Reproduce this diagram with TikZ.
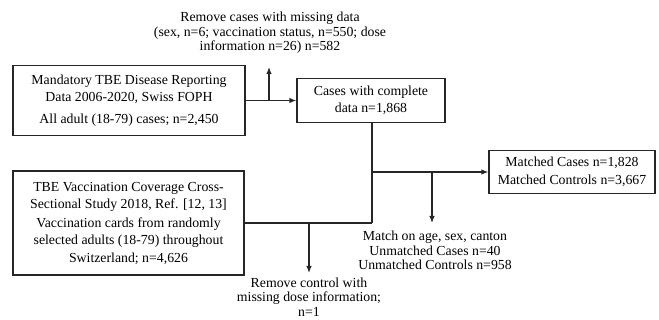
\documentclass[tikz,border=0pt]{standalone}
\usepackage{fontspec}
\setmainfont{Liberation Serif}
\usetikzlibrary{arrows.meta,calc}
\tikzset{>={Latex[length=7pt,width=5.5pt]}}
\tikzstyle{stage}=[rectangle,draw=black!85,line width=1.2pt,align=center,inner sep=2pt,font=\fontsize{13.8}{17.5}\selectfont]
\tikzstyle{note}=[align=center,inner sep=0pt,font=\fontsize{13.8}{14.6}\selectfont]
\tikzstyle{link}=[line width=1.2pt,draw=black!85]

\begin{document}
\begin{tikzpicture}[x=1pt,y=-1pt]
    \useasboundingbox (0,0) rectangle (659,320);

    % boxes
    \node[stage,minimum width=232pt,minimum height=70pt] (report) at (129,100.5)
        {Mandatory TBE Disease Reporting\\Data 2006-2020, Swiss FOPH\\[4pt]All adult (18-79) cases; n=2,450};
    \node[stage,minimum width=148pt,minimum height=44pt] (complete) at (371,100.5)
        {Cases with complete\\data n=1,868};
    \node[stage,minimum width=231pt,minimum height=104pt] (survey) at (128.5,223)
        {TBE Vaccination Coverage Cross-\\Sectional Study 2018, Ref. [12, 13]\\[1pt]Vaccination cards from randomly\\selected adults (18-79) throughout\\Switzerland; n=4,626};
    \node[stage,minimum width=166pt,minimum height=43pt] (matched) at (572,172)
        {Matched Cases n=1,828\\Matched Controls n=3,667};

    % side notes
    \node[note] (rmcases) at (270,33)
        {Remove cases with missing data\\(sex, n=6; vaccination status, n=550; dose\\information n=26) n=582};
    \node[note] (match) at (435,250.5)
        {Match on age, sex, canton\\Unmatched Cases n=40\\Unmatched Controls n=958};
    \node[note] (rmctrl) at (309,297)
        {Remove control with\\missing dose information;\\n=1};

    % junctions
    \coordinate (j1) at (269,100.5);
    \coordinate (j1t) at (269,67);
    \coordinate (j2) at (372,223);
    \coordinate (j3) at (372,172);
    \coordinate (j4) at (432,172);
    \coordinate (j4t) at (432,223);
    \coordinate (j5) at (309,223);
    \coordinate (j5t) at (309,273);

    \draw[link,->] (report.east) -- (complete.west);
    \draw[link,->] (j1) -- (j1t);
    \draw[link] (complete.south -| j2) -- (j2);
    \draw[link] (survey.east) -- (j2);
    \draw[link,->] (j3) -- (matched.west);
    \draw[link,->] (j4) -- (j4t);
    \draw[link,->] (j5) -- (j5t);
\end{tikzpicture}
\end{document}
